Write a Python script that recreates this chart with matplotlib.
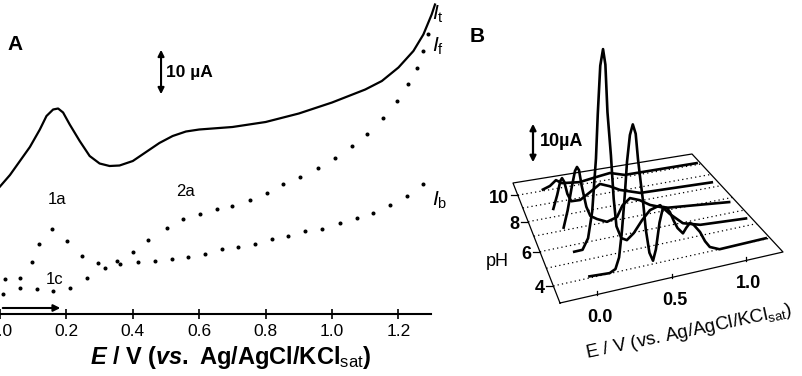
import numpy as np
import matplotlib.pyplot as plt
from matplotlib.transforms import Affine2D

plt.rcParams['font.family'] = 'Liberation Sans'
plt.rcParams['mathtext.fontset'] = 'custom'
plt.rcParams['mathtext.rm'] = 'Liberation Sans:bold'
plt.rcParams['mathtext.it'] = 'Liberation Sans:bold:italic'
plt.rcParams['mathtext.bf'] = 'Liberation Sans:bold'
plt.rcParams['mathtext.sf'] = 'Liberation Sans'
plt.rcParams['mathtext.tt'] = 'Liberation Sans:italic'

# ---- panel A : SWV, E in V, I in uA (offset, as drawn) ----
E_t = [0.0, 0.03, 0.06, 0.09, 0.12, 0.14, 0.16, 0.175, 0.19, 0.21, 0.24, 0.27, 0.30, 0.33,
       0.36, 0.40, 0.44, 0.48, 0.52, 0.56, 0.60, 0.70, 0.80, 0.90, 1.00, 1.10, 1.15, 1.20,
       1.245, 1.275, 1.30, 1.31]
I_t = [25.5, 27.8, 30.6, 33.4, 36.9, 39.6, 40.9, 41.1, 40.3, 37.9, 34.6, 31.6, 30.1, 29.6,
       29.7, 30.6, 32.4, 34.2, 35.6, 36.5, 36.9, 37.4, 38.4, 40.1, 42.3, 44.9, 46.6, 49.3,
       52.6, 55.9, 59.9, 61.9]

E_f = [0.015, 0.06, 0.096, 0.117, 0.157, 0.202, 0.247, 0.295, 0.352, 0.40, 0.446, 0.503,
       0.551, 0.602, 0.654, 0.70, 0.753, 0.804, 0.852, 0.904, 0.958, 1.009, 1.06, 1.105,
       1.154, 1.196, 1.229, 1.256, 1.274, 1.289]
I_f = [7.0, 7.2, 10.4, 14.0, 17.0, 14.6, 11.6, 10.2, 10.6, 12.4, 14.8, 17.2,
       19.0, 20.0, 21.0, 21.6, 22.8, 24.2, 26.0, 27.4, 29.2, 31.2, 33.6, 36.0,
       39.2, 42.6, 46.0, 49.2, 52.6, 56.0]

E_b = [0.009, 0.06, 0.111, 0.16, 0.211, 0.262, 0.316, 0.361, 0.416, 0.467, 0.518, 0.566,
       0.617, 0.669, 0.717, 0.768, 0.819, 0.867, 0.919, 0.97, 1.024, 1.075, 1.123, 1.175,
       1.226, 1.274]
I_b = [4.0, 5.2, 5.0, 4.6, 5.2, 7.2, 9.2, 10.0, 10.4, 10.6, 11.0, 11.4,
       12.0, 13.0, 13.4, 14.0, 15.0, 15.6, 16.6, 17.0, 18.2, 19.2, 20.2, 21.8,
       23.6, 26.0]

a_ticks = [0.0, 0.2, 0.4, 0.6, 0.8, 1.0, 1.2]
a_ticklabels = ['0.0', '0.2', '0.4', '0.6', '0.8', '1.0', '1.2']

# ---- panel B : SWV vs pH ----
ph_traces = [4.0, 5.4, 6.7, 8.3, 10.1]
E_ph4 = [0.0, 0.14, 0.18, 0.205, 0.225, 0.245, 0.26, 0.28, 0.30, 0.32, 0.336, 0.355, 0.37,
         0.39, 0.415, 0.44, 0.46, 0.485, 0.51, 0.535, 0.557, 0.585, 0.61, 0.647, 0.67, 0.695,
         0.72, 0.765, 0.80, 0.833, 0.90, 1.22]
I_ph4 = [0.4, 0.1, 0.8, 3.5, 10.0, 19.0, 27.0, 33.5, 36.0, 33.5, 27.0, 21.0, 16.5,
         9.0, 3.0, 0.8, 3.5, 10.0, 13.7, 13.3, 12.0, 9.5, 7.6, 6.0, 7.2, 8.2,
         7.6, 5.4, 2.8, 1.1, 0.0, 0.2]
E_ph5 = [-0.03, 0.03, 0.07, 0.10, 0.127, 0.14, 0.158, 0.178, 0.195, 0.21, 0.235, 0.255,
         0.275, 0.31, 0.35, 0.40, 0.46, 0.517, 0.59, 0.66, 0.755, 0.88, 1.21]
I_ph5 = [0.85, 0.9, 3.5, 10.0, 23.0, 34.0, 46.0, 50.0, 46.0, 34.0, 23.0, 12.0,
         5.0, 1.8, 1.0, 2.4, 5.2, 7.3, 8.0, 5.3, 2.3, 1.0, 0.2]
E_ph7 = [-0.04, -0.01, 0.02, 0.045, 0.06, 0.075, 0.095, 0.13, 0.16, 0.21, 0.285, 0.36,
         0.40, 0.457, 0.53, 0.607, 0.72, 1.2]
I_ph7 = [1.9, 6.0, 11.5, 15.5, 16.4, 15.5, 11.5, 6.0, 3.5, 2.4, 1.2, 1.9,
         4.5, 6.0, 5.0, 3.3, 1.8, 0.1]
E_ph8 = [-0.04, -0.01, 0.015, 0.028, 0.045, 0.07, 0.10, 0.17, 0.247, 0.325, 0.40, 0.48,
         0.64, 1.2]
I_ph8 = [0.9, 4.2, 7.6, 8.2, 7.2, 4.0, 2.0, 1.9, 3.4, 5.0, 4.0, 2.6,
         0.9, 0.25]
E_ph10 = [-0.04, 0.018, 0.067, 0.116, 0.26, 0.43, 0.51, 0.63, 1.22]
I_ph10 = [0.0, 0.6, 1.8, 0.8, 0.3, 1.0, 1.3, 0.2, 0.1]
trace_E = [E_ph4, E_ph5, E_ph7, E_ph8, E_ph10]
trace_I = [I_ph4, I_ph5, I_ph7, I_ph8, I_ph10]

ph_grid = [4, 5, 6, 7, 8, 9, 10]
ph_ticks = [4, 6, 8, 10]
b_eticks = [0.0, 0.5, 1.0]
b_eticklabels = ['0.0', '0.5', '1.0']

fig = plt.figure(figsize=(8.02, 3.76), dpi=100)

# ================= A =================
ax = fig.add_axes([0, 62 / 376, 431 / 802, 314 / 376])
ax.plot(E_t, I_t, color='k', lw=1.6, clip_on=False)
ax.plot(E_f, I_f, ls='none', marker='o', ms=1.9, color='k', clip_on=False)
ax.plot(E_b, I_b, ls='none', marker='o', ms=1.9, color='k', clip_on=False)
ax.set_xlim(0, 1.298)
ax.set_ylim(0, 62.8)
for s in ['top', 'right', 'left']:
    ax.spines[s].set_visible(False)
ax.spines['bottom'].set_linewidth(1.5)
ax.set_yticks([])
ax.set_xticks(a_ticks)
ax.set_xticklabels(a_ticklabels, fontsize=12.5)
ax.tick_params(axis='x', direction='inout', length=7, width=1.2, pad=4)
ax.set_xlabel(r'$E$ / V ($vs.$ Ag/AgCl/KCl$_\mathsf{sat}$)', fontsize=17, fontweight='bold')
ax.xaxis.set_label_coords(231 / 431, -30 / 314)

ax.text(0.172, 23.0, '1a', fontsize=12, ha='center', va='center')
ax.text(0.56, 24.4, '2a', fontsize=12, ha='center', va='center')
ax.text(0.163, 7.0, '1c', fontsize=12, ha='center', va='center')
ax.text(1.30, 60.0, r'$\mathtt{I}_\mathsf{t}$', fontsize=15, ha='left', va='center')
ax.text(1.30, 53.6, r'$\mathtt{I}_\mathsf{f}$', fontsize=15, ha='left', va='center')
ax.text(1.30, 22.8, r'$\mathtt{I}_\mathsf{b}$', fontsize=15, ha='left', va='center')
ax.annotate('', xy=(0.19, 1.2), xytext=(0.0, 1.2),
            arrowprops=dict(arrowstyle='-|>', lw=1.5, color='k', mutation_scale=10),
            annotation_clip=False)
ax.annotate('', xy=(0.485, 53.4), xytext=(0.485, 43.4),
            arrowprops=dict(arrowstyle='<|-|>', lw=1.5, color='k', mutation_scale=9))
ax.text(0.50, 48.2, '10 µA', fontsize=12.5, fontweight='bold', va='center')
fig.text(15 / 802, 1 - 44 / 376, 'A', fontsize=15, fontweight='bold', ha='center', va='center')

# ================= B (oblique waterfall) =================
axb = fig.add_axes([0.55, 0, 0.45, 1])
axb.set_xlim(0.55 * 802, 802)
axb.set_ylim(376, 0)
axb.axis('off')
axb.patch.set_alpha(0)

FL = np.array([560.0, 303.0]); FR = np.array([783.0, 252.0])
BL = np.array([513.0, 183.0]); BR = np.array([692.0, 154.0])
E_MIN, E_MAX = -0.25, 1.25
PH_FRONT, PH_BACK, PERSP = 3.1, 11.0, 0.0364
PX_PER_UA = 4.0


def depth(ph):
    u = ph - PH_FRONT
    span = PH_BACK - PH_FRONT
    return u * (1 + PERSP * span) / (span * (1 + PERSP * u))


def plane_affine(ph):
    t = depth(ph)
    L = FL + t * (BL - FL)
    R = FR + t * (BR - FR)
    s = (R - L) / (E_MAX - E_MIN)
    return Affine2D(np.array([[s[0], 0, L[0] - E_MIN * s[0]],
                              [s[1], -PX_PER_UA, L[1] - E_MIN * s[1]],
                              [0, 0, 1]]))


# plane outline
corners = np.array([FL, FR, BR, BL, FL])
axb.plot(corners[:, 0], corners[:, 1], color='k', lw=0.9)
for ph in ph_grid:
    axb.plot([E_MIN, E_MAX], [0, 0], color='k', lw=0.9, ls=(0, (1, 2.5)),
             transform=plane_affine(ph) + axb.transData)
for ph in ph_ticks:
    x, y = plane_affine(ph).transform((E_MIN, 0))
    axb.plot([x - 7, x], [y, y], color='k', lw=0.9)
    axb.text(x - 9, y + 3, str(ph), fontsize=13, fontweight='bold', ha='right', va='center')
axb.text(497, 262, 'pH', fontsize=13, ha='center', va='center')
for e, lab in zip(b_eticks, b_eticklabels):
    x, y = plane_affine(PH_FRONT).transform((e, 0))
    axb.plot([x, x], [y, y - 4], color='k', lw=0.9)
    axb.text(x + 3, y + 23, lab, fontsize=13, fontweight='bold', ha='center', va='center')
axb.text(689, 332, r'E / V (vs. Ag/AgCl/KCl$_\mathsf{sat}$)', fontsize=13.5,
         rotation=12, ha='center', va='center', rotation_mode='anchor')

for ph, ev, iv in zip(ph_traces, trace_E, trace_I):
    axb.plot(ev, iv, color='k', lw=1.9, transform=plane_affine(ph) + axb.transData)

axb.annotate('', xy=(533, 121), xytext=(533, 165),
             arrowprops=dict(arrowstyle='<|-|>', lw=1.6, color='k', mutation_scale=9))
axb.text(540, 142, '10µA', fontsize=13, fontweight='bold', ha='left', va='center')
axb.text(477, 36, 'B', fontsize=15, fontweight='bold', ha='center', va='center')

fig.savefig('out.png', dpi=100)
